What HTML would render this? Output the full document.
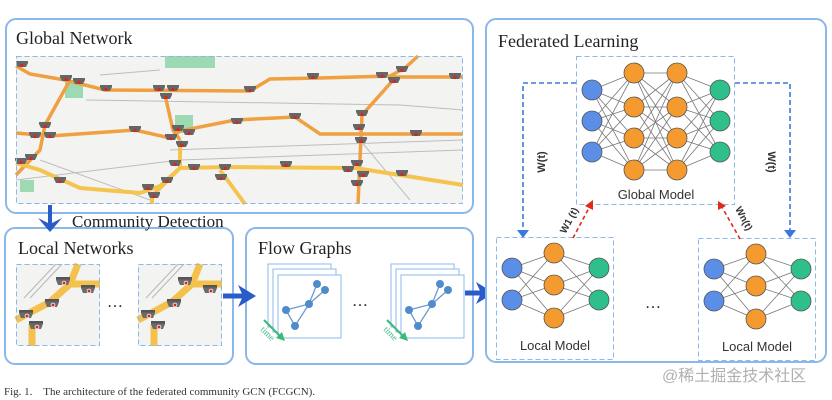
<!DOCTYPE html>
<html><head><meta charset="utf-8"><style>
html,body{margin:0;padding:0;background:#fff;width:832px;height:400px;overflow:hidden}
svg{display:block}
.serif{font-family:"Liberation Serif",serif}
.sans{font-family:"Liberation Sans",sans-serif}
</style></head><body>
<svg width="832" height="400" viewBox="0 0 832 400" xmlns="http://www.w3.org/2000/svg">
<defs>
<g id="cam"><path d="M-6,-4 h12 v2 l-2,4 h-8 l-2,-4z" fill="#666"/><circle cx="0" cy="0.5" r="1.6" fill="#d22"/></g>
<g id="bigcam"><path d="M-7,-5 h14 v2 l-2,5 h-10 l-2,-5z" fill="#6a6a6a"/><rect x="-7" y="-6" width="14" height="2.5" fill="#555"/><circle cx="1" cy="0" r="2.3" fill="#fff"/><circle cx="1" cy="0" r="1.5" fill="#d22"/></g>
<g id="tile">
<rect x="0" y="0" width="84" height="82" fill="#f3f3f2"/>
<path d="M8,34 L40,0 M14,34 L46,0" stroke="#bbb" stroke-width="1.2" fill="none"/>
<path d="M0,56 L34,38 L54,20 L84,20 M54,20 L62,0 M16,60 L16,82" stroke="#f4c24c" stroke-width="7" fill="none"/>
<use href="#bigcam" x="47" y="19"/><use href="#bigcam" x="72" y="27"/><use href="#bigcam" x="36" y="41"/><use href="#bigcam" x="10" y="52"/><use href="#bigcam" x="20" y="63"/>
<rect x="0.5" y="0.5" width="83" height="81" fill="none" stroke="#8ab8e8" stroke-dasharray="5,3"/>
</g>
<g id="fg">
<rect x="0" y="0" width="63" height="63" fill="#fff" stroke="#8ab8e8"/>
<rect x="5" y="5" width="63" height="63" fill="#fff" stroke="#8ab8e8"/>
<rect x="10" y="11" width="63" height="63" fill="#fff" stroke="#8ab8e8"/>
<path d="M18,46 L41,40 L49,20 M41,40 L57,26 M18,46 L27,62 L41,40" stroke="#6a9ad0" stroke-width="1.3" fill="none"/>
<g fill="#4f8ccc"><circle cx="18" cy="46" r="4"/><circle cx="49" cy="20" r="4"/><circle cx="57" cy="26" r="4"/><circle cx="41" cy="40" r="4"/><circle cx="27" cy="62" r="4"/></g>
<path d="M-4,56 L14,74" stroke="#3cb878" stroke-width="2"/><path d="M8,74 L17,77 L14,68z" fill="#3cb878"/>
<text x="-8" y="66" transform="rotate(45 -8 66)" class="serif" font-size="9" fill="#3cb878">time</text>
</g>
</defs>

<!-- Global Network -->
<rect x="6" y="19" width="467" height="194" rx="10" fill="#fff" stroke="#8ab8e8" stroke-width="2"/>
<text x="16" y="44" class="serif" font-size="18" fill="#222">Global Network</text>
<rect x="16" y="56" width="447" height="148" fill="#f3f3f2"/>
<g fill="none" stroke="#bdbdbd" stroke-width="1">
<path d="M16,180 Q100,170 180,160 L463,150"/><path d="M86,100 L400,105 L463,110"/><path d="M170,150 L463,140"/><path d="M100,75 L160,70"/><path d="M40,160 L150,200"/><path d="M360,140 L410,200"/>
</g>
<g fill="#9ddab4"><rect x="165" y="56" width="50" height="12"/><rect x="65" y="80" width="18" height="18"/><rect x="175" y="115" width="18" height="18"/><rect x="20" y="180" width="14" height="12"/></g>
<g fill="none" stroke="#f0a040" stroke-width="3.5">
<path d="M16,66 L30,74 L65,80 L105,90 L250,91 L270,79 L320,78 L390,76 L405,68 L418,56"/>
<path d="M16,133 L50,136 L135,130 L170,138 L180,131 L235,120 L295,117 L320,134 L463,134"/>
<path d="M70,80 L45,125 L40,150 L16,175"/>
<path d="M165,95 L173,130 L180,140"/>
<path d="M395,78 L362,115 L358,204"/>
<path d="M390,77 L463,77"/>
</g>
<g fill="none" stroke="#f5c44e" stroke-width="4">
<path d="M16,163 L40,170 L80,188 L140,193 L160,186 L180,168 L230,167 L355,168 L400,175 L463,185"/>
<path d="M180,140 L180,168 L152,196 L152,204"/>
<path d="M220,170 L245,204"/>
</g>
<g>
<use href="#cam" x="22" y="65"/><use href="#cam" x="66" y="79"/><use href="#cam" x="79" y="82"/><use href="#cam" x="106" y="89"/><use href="#cam" x="159" y="89"/><use href="#cam" x="173" y="89"/><use href="#cam" x="166" y="97"/><use href="#cam" x="250" y="90"/><use href="#cam" x="313" y="77"/><use href="#cam" x="382" y="76"/><use href="#cam" x="402" y="70"/><use href="#cam" x="394" y="81"/><use href="#cam" x="455" y="77"/>
<use href="#cam" x="45" y="126"/><use href="#cam" x="35" y="136"/><use href="#cam" x="50" y="136"/><use href="#cam" x="135" y="130"/><use href="#cam" x="178" y="129"/><use href="#cam" x="189" y="133"/><use href="#cam" x="171" y="138"/><use href="#cam" x="182" y="145"/><use href="#cam" x="237" y="122"/><use href="#cam" x="295" y="117"/><use href="#cam" x="362" y="114"/><use href="#cam" x="359" y="128"/><use href="#cam" x="361" y="141"/><use href="#cam" x="416" y="134"/>
<use href="#cam" x="21" y="162"/><use href="#cam" x="31" y="158"/><use href="#cam" x="60" y="181"/><use href="#cam" x="148" y="188"/><use href="#cam" x="154" y="196"/><use href="#cam" x="167" y="181"/><use href="#cam" x="175" y="164"/><use href="#cam" x="194" y="168"/><use href="#cam" x="225" y="168"/><use href="#cam" x="221" y="178"/><use href="#cam" x="286" y="165"/><use href="#cam" x="348" y="170"/><use href="#cam" x="357" y="164"/><use href="#cam" x="363" y="175"/><use href="#cam" x="357" y="184"/><use href="#cam" x="402" y="174"/>
</g>
<rect x="16.5" y="56.5" width="446" height="147" fill="none" stroke="#8ab8e8" stroke-dasharray="5,3"/>

<!-- Local Networks -->
<rect x="5" y="228" width="228" height="136" rx="10" fill="#fff" stroke="#8ab8e8" stroke-width="2"/>
<text x="18" y="254" class="serif" font-size="18" fill="#222">Local Networks</text>
<use href="#tile" x="16" y="264"/>
<use href="#tile" x="138" y="264"/>
<text x="107" y="307" class="serif" font-size="16" fill="#222">…</text>

<!-- Community detection arrow -->
<path d="M50,205 L50,224" stroke="#2a5cc8" stroke-width="4"/>
<path d="M38,218 L50,232 L62,218 L50,224z" fill="#2a5cc8"/>
<text x="72" y="227" class="serif" font-size="17" fill="#222">Community Detection</text>

<!-- Flow Graphs -->
<rect x="246" y="228" width="227" height="136" rx="10" fill="#fff" stroke="#8ab8e8" stroke-width="2"/>
<text x="258" y="254" class="serif" font-size="18" fill="#222">Flow Graphs</text>
<use href="#fg" x="268" y="264"/>
<use href="#fg" x="391" y="264"/>
<text x="352" y="306" class="serif" font-size="16" fill="#222">…</text>

<!-- big arrows -->
<path d="M223,296 L244,296" stroke="#2a5cc8" stroke-width="5"/><path d="M238,285 L256,296 L238,307 L243,296z" fill="#2a5cc8"/>
<path d="M465,293 L482,293" stroke="#2a5cc8" stroke-width="5"/><path d="M476,282 L494,293 L476,304 L481,293z" fill="#2a5cc8"/>

<!-- Federated Learning -->
<rect x="486" y="19" width="340" height="343" rx="10" fill="#fff" stroke="#8ab8e8" stroke-width="2"/>
<text x="498" y="47" class="serif" font-size="18" fill="#222">Federated Learning</text>

<rect x="576.5" y="56.5" width="158" height="148" fill="none" stroke="#8ab8e8" stroke-dasharray="5,3"/>
<g stroke="#777" stroke-width="0.8">
<path d="M592,90L634,73M592,90L634,107M592,90L634,138M592,90L634,170M592,121L634,73M592,121L634,107M592,121L634,138M592,121L634,170M592,152L634,73M592,152L634,107M592,152L634,138M592,152L634,170"/>
<path d="M634,73L677,73M634,73L677,107M634,73L677,138M634,73L677,170M634,107L677,73M634,107L677,107M634,107L677,138M634,107L677,170M634,138L677,73M634,138L677,107M634,138L677,138M634,138L677,170M634,170L677,73M634,170L677,107M634,170L677,138M634,170L677,170"/>
<path d="M677,73L720,90M677,73L720,121M677,73L720,152M677,107L720,90M677,107L720,121M677,107L720,152M677,138L720,90M677,138L720,121M677,138L720,152M677,170L720,90M677,170L720,121M677,170L720,152"/>
</g>
<g stroke="#555" stroke-width="0.8">
<g fill="#5b8ee6"><circle cx="592" cy="90" r="10"/><circle cx="592" cy="121" r="10"/><circle cx="592" cy="152" r="10"/></g>
<g fill="#f59a2e"><circle cx="634" cy="73" r="10"/><circle cx="634" cy="107" r="10"/><circle cx="634" cy="138" r="10"/><circle cx="634" cy="170" r="10"/><circle cx="677" cy="73" r="10"/><circle cx="677" cy="107" r="10"/><circle cx="677" cy="138" r="10"/><circle cx="677" cy="170" r="10"/></g>
<g fill="#2fbf8a"><circle cx="720" cy="90" r="10"/><circle cx="720" cy="121" r="10"/><circle cx="720" cy="152" r="10"/></g>
</g>
<text x="656" y="199" text-anchor="middle" class="sans" font-size="13" fill="#333">Global Model</text>

<g id="lm">
<rect x="496.5" y="237.5" width="117" height="122" fill="none" stroke="#8ab8e8" stroke-dasharray="5,3"/>
<g stroke="#777" stroke-width="0.8">
<path d="M512,268L554,253M512,268L554,285M512,268L554,318M512,300L554,253M512,300L554,285M512,300L554,318M554,253L599,268M554,253L599,300M554,285L599,268M554,285L599,300M554,318L599,268M554,318L599,300"/>
</g>
<g stroke="#555" stroke-width="0.8">
<g fill="#5b8ee6"><circle cx="512" cy="268" r="10"/><circle cx="512" cy="300" r="10"/></g>
<g fill="#f59a2e"><circle cx="554" cy="253" r="10"/><circle cx="554" cy="285" r="10"/><circle cx="554" cy="318" r="10"/></g>
<g fill="#2fbf8a"><circle cx="599" cy="268" r="10"/><circle cx="599" cy="300" r="10"/></g>
</g>
<text x="555" y="350" text-anchor="middle" class="sans" font-size="13" fill="#333">Local Model</text>
</g>
<use href="#lm" x="202" y="1"/>
<text x="653" y="308" text-anchor="middle" class="serif" font-size="16" fill="#222">…</text>

<path d="M576,83 L523,83 L523,232" fill="none" stroke="#3a78e0" stroke-width="1.6" stroke-dasharray="5,3"/>
<path d="M517,230 L523,238 L529,230z" fill="#3a78e0"/>
<path d="M735,83 L790,83 L790,232" fill="none" stroke="#3a78e0" stroke-width="1.6" stroke-dasharray="5,3"/>
<path d="M784,230 L790,238 L796,230z" fill="#3a78e0"/>
<text x="0" y="0" transform="translate(545,162) rotate(-90)" text-anchor="middle" class="sans" font-weight="bold" font-size="11" fill="#333">W(t)</text>
<text x="0" y="0" transform="translate(768,162) rotate(90)" text-anchor="middle" class="sans" font-weight="bold" font-size="11" fill="#333">W(t)</text>
<path d="M573,238 L590,206" stroke="#e02a1a" stroke-width="1.6" stroke-dasharray="4,3"/>
<path d="M585,206 L593,200 L593,210z" fill="#e02a1a"/>
<path d="M740,239 L722,207" stroke="#e02a1a" stroke-width="1.6" stroke-dasharray="4,3"/>
<path d="M718,210 L718,201 L726,206z" fill="#e02a1a"/>
<text x="0" y="0" transform="translate(572,222) rotate(-62)" text-anchor="middle" class="sans" font-weight="bold" font-size="10" fill="#333">W1 (t)</text>
<text x="0" y="0" transform="translate(741,220) rotate(62)" text-anchor="middle" class="sans" font-weight="bold" font-size="10" fill="#333">Wn(t)</text>

<text x="662" y="381" font-size="16" fill="#b0b0b0" style="font-family:'Liberation Sans','Noto Sans CJK SC',sans-serif">@稀土掘金技术社区</text>
<text x="4" y="395" class="serif" font-size="11" fill="#333">Fig. 1.&#160;&#160;&#160; The architecture of the federated community GCN (FCGCN).</text>
</svg>
</body></html>
